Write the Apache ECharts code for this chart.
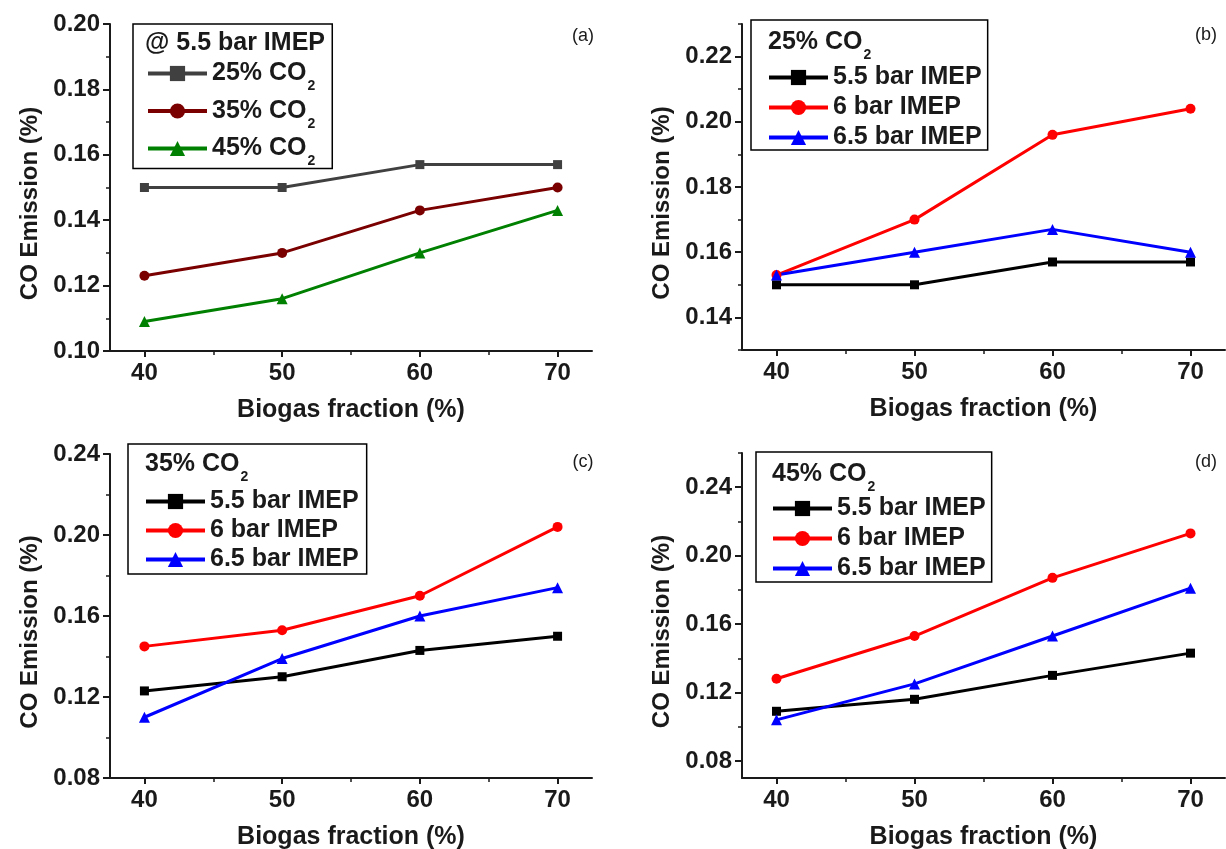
<!DOCTYPE html>
<html>
<head>
<meta charset="utf-8">
<script src="https://cdn.jsdelivr.net/npm/echarts@6/dist/echarts.min.js"></script>
<style>
  html, body { margin: 0; padding: 0; background: #ffffff; }
  #chart { width: 1226px; height: 849px; }
</style>
</head>
<body>
<div id="chart"></div>
<script>
// Biogas fraction (%) on the x axis of every panel
const biogas = [40, 50, 60, 70];
const xMajor = [40, 50, 60, 70];
const xMinor = [45, 55, 65];

// (a) 5.5 bar IMEP, three CO2 levels
const a25 = [0.150, 0.150, 0.157, 0.157];
const a35 = [0.123, 0.130, 0.143, 0.150];
const a45 = [0.109, 0.116, 0.130, 0.143];
// (b) 25% CO2, three loads
const b55 = [0.150, 0.150, 0.157, 0.157];
const b60 = [0.153, 0.170, 0.196, 0.204];
const b65 = [0.153, 0.160, 0.167, 0.160];
// (c) 35% CO2
const c55 = [0.123, 0.130, 0.143, 0.150];
const c60 = [0.145, 0.153, 0.170, 0.204];
const c65 = [0.110, 0.139, 0.160, 0.174];
// (d) 45% CO2
const d55 = [0.109, 0.116, 0.130, 0.143];
const d60 = [0.128, 0.153, 0.187, 0.213];
const d65 = [0.104, 0.125, 0.153, 0.181];

// y tick values per panel
const yMajorA = [0.10, 0.12, 0.14, 0.16, 0.18, 0.20];
const yMinorA = [0.11, 0.13, 0.15, 0.17, 0.19];
const yMajorB = [0.14, 0.16, 0.18, 0.20, 0.22];
const yMinorB = [0.13, 0.15, 0.17, 0.19, 0.21, 0.23];
const yMajorC = [0.08, 0.12, 0.16, 0.20, 0.24];
const yMinorC = [0.10, 0.14, 0.18, 0.22];
const yMajorD = [0.08, 0.12, 0.16, 0.20, 0.24];
const yMinorD = [0.10, 0.14, 0.18, 0.22, 0.26];

const FONT = '"Liberation Sans", Arial, Helvetica, sans-serif';
const INK = '#1a1a1a';

const panels = [
  { grid: { left: 110, top: 24, width: 482, height: 327 }, yMin: 0.10, yMax: 0.20, yMajor: yMajorA, yMinor: yMinorA },
  { grid: { left: 742, top: 24, width: 483, height: 326 }, yMin: 0.13, yMax: 0.23, yMajor: yMajorB, yMinor: yMinorB },
  { grid: { left: 110, top: 454, width: 482, height: 324 }, yMin: 0.08, yMax: 0.24, yMajor: yMajorC, yMinor: yMinorC },
  { grid: { left: 742, top: 453, width: 483, height: 325 }, yMin: 0.07, yMax: 0.26, yMajor: yMajorD, yMinor: yMinorD }
];

const grids = [], xAxes = [], yAxes = [];
panels.forEach((p, i) => {
  grids.push(Object.assign({ outerBoundsMode: 'none', containLabel: false }, p.grid));
  // main x axis: line, major ticks, labels, name
  xAxes.push({
    type: 'value', gridIndex: i, position: 'bottom', min: 37.5, max: 72.5,
    axisLine: { show: true, onZero: false, lineStyle: { color: INK, width: 2 } },
    axisTick: { show: true, inside: false, length: 6, customValues: xMajor, lineStyle: { color: INK, width: 2 } },
    axisLabel: { show: true, margin: 10, customValues: xMajor, color: INK, fontFamily: FONT, fontWeight: 'bold', fontSize: 24 },
    splitLine: { show: false },
    name: 'Biogas fraction (%)', nameLocation: 'middle', nameGap: 47,
    nameTextStyle: { color: INK, fontFamily: FONT, fontWeight: 'bold', fontSize: 25 }
  });
  // overlay x axis carrying the minor ticks only
  xAxes.push({
    type: 'value', gridIndex: i, position: 'bottom', min: 37.5, max: 72.5,
    axisLine: { show: false, onZero: false },
    axisTick: { show: true, length: 4, customValues: xMinor, lineStyle: { color: INK, width: 1.5 } },
    axisLabel: { show: false }, splitLine: { show: false }
  });
  yAxes.push({
    type: 'value', gridIndex: i, position: 'left', min: p.yMin, max: p.yMax,
    axisLine: { show: true, onZero: false, lineStyle: { color: INK, width: 2 } },
    axisTick: { show: true, length: 7, customValues: p.yMajor, lineStyle: { color: INK, width: 2 } },
    axisLabel: { show: true, margin: 10, customValues: p.yMajor, formatter: v => v.toFixed(2),
      color: INK, fontFamily: FONT, fontWeight: 'bold', fontSize: 24 },
    splitLine: { show: false },
    name: 'CO Emission (%)', nameLocation: 'middle', nameGap: 68,
    nameTextStyle: { color: INK, fontFamily: FONT, fontWeight: 'bold', fontSize: 24, padding: [0, 32, 0, 0] }
  });
  yAxes.push({
    type: 'value', gridIndex: i, position: 'left', min: p.yMin, max: p.yMax,
    axisLine: { show: false, onZero: false },
    axisTick: { show: true, length: 4, customValues: p.yMinor, lineStyle: { color: INK, width: 1.5 } },
    axisLabel: { show: false }, splitLine: { show: false }
  });
});

function pairs(ys) { return biogas.map((x, k) => [x, ys[k]]); }

function line(name, panel, ys, color, symbol, size) {
  return {
    type: 'line', name: name,
    xAxisIndex: panel * 2, yAxisIndex: panel * 2,
    data: pairs(ys),
    symbol: symbol, symbolSize: size,
    lineStyle: { color: color, width: 3 },
    itemStyle: { color: color },
    emphasis: { disabled: true },
    animation: false, z: 3
  };
}

const series = [
  line('25% CO2', 0, a25, '#404040', 'rect', 9),
  line('35% CO2', 0, a35, '#7a0000', 'circle', 10),
  line('45% CO2', 0, a45, '#008000', 'triangle', 11),
  line('5.5 bar IMEP', 1, b55, '#000000', 'rect', 9),
  line('6 bar IMEP', 1, b60, '#ff0000', 'circle', 10),
  line('6.5 bar IMEP', 1, b65, '#0000ff', 'triangle', 11),
  line('5.5 bar IMEP', 2, c55, '#000000', 'rect', 9),
  line('6 bar IMEP', 2, c60, '#ff0000', 'circle', 10),
  line('6.5 bar IMEP', 2, c65, '#0000ff', 'triangle', 11),
  line('5.5 bar IMEP', 3, d55, '#000000', 'rect', 9),
  line('6 bar IMEP', 3, d60, '#ff0000', 'circle', 10),
  line('6.5 bar IMEP', 3, d65, '#0000ff', 'triangle', 11)
];

const richText = {
  a: { fontFamily: FONT, fontWeight: 'bold', fontSize: 25, color: INK, lineHeight: 28 },
  s: { fontFamily: FONT, fontWeight: 'bold', fontSize: 14, color: INK, lineHeight: 14, verticalAlign: 'bottom', padding: [0, 0, -6, 1] }
};
const co2Label = name => name.indexOf('CO2') >= 0 ? '{a|' + name.replace('CO2', 'CO') + '}{s|2}' : '{a|' + name + '}';

function legend(left, top, names, pad, gap) {
  return {
    orient: 'vertical', left: left, top: top, data: names,
    itemWidth: 59, itemHeight: 19, itemGap: gap,
    padding: pad,
    borderColor: '#000', borderWidth: 1.5, backgroundColor: '#ffffff', borderRadius: 0,
    selectedMode: false,
    lineStyle: { width: 4 },
    formatter: co2Label,
    textStyle: { rich: richText, fontFamily: FONT, fontWeight: 'bold', fontSize: 25, color: INK }
  };
}

const loads = ['5.5 bar IMEP', '6 bar IMEP', '6.5 bar IMEP'];
const legends = [
  legend(133, 24, ['25% CO2', '35% CO2', '45% CO2'], [37, 17, 0, 13], 5),
  legend(751, 20, loads, [45, 6, 0, 16], 5),
  legend(128, 444, loads, [45, 8, 2, 16], 4),
  legend(756, 452, loads, [44, 6, 1, 15], 5)
];

function heading(text, left, top) {
  return { text: co2Label(text), left: left, top: top, padding: 0, z: 8,
    textStyle: { rich: richText } };
}
const titles = [
  heading('@ 5.5 bar IMEP', 145, 29),
  heading('25% CO2', 768, 28),
  heading('35% CO2', 145, 450),
  heading('45% CO2', 772, 460)
];

function tag(text, x, y) {
  return { type: 'text', x: x, y: y, z: 10,
    style: { text: text, fontFamily: FONT, fontSize: 18, fill: INK, align: 'center', verticalAlign: 'middle' } };
}

const chart = echarts.init(document.getElementById('chart'), null, { renderer: 'canvas' });
chart.setOption({
  backgroundColor: '#ffffff',
  animation: false,
  grid: grids, xAxis: xAxes, yAxis: yAxes,
  series: series, legend: legends, title: titles,
  graphic: [tag('(a)', 583, 36), tag('(b)', 1206, 35), tag('(c)', 583, 462), tag('(d)', 1206, 462)]
});
</script>
</body>
</html>
